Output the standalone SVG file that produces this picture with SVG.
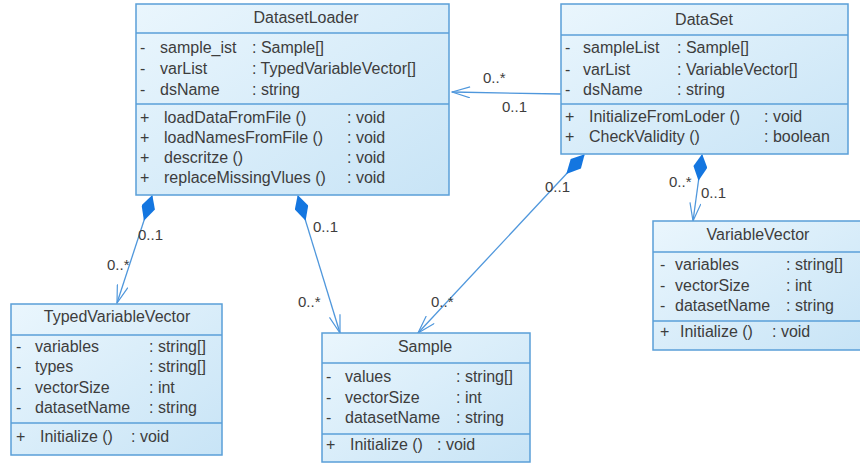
<svg xmlns="http://www.w3.org/2000/svg" width="860" height="463" viewBox="0 0 860 463">
<defs>
<linearGradient id="fill" x1="0" y1="0" x2="1" y2="1">
<stop offset="0" stop-color="#eaf6fd"/>
<stop offset="1" stop-color="#c8e4f6"/>
</linearGradient>
<marker id="open" viewBox="0 0 20 12" refX="19" refY="6" markerWidth="20" markerHeight="12" markerUnits="userSpaceOnUse" orient="auto">
<path d="M1,0.5 L19,6 L1,11.5" fill="none" stroke="#4f97dc" stroke-width="1.2"/>
</marker>
<marker id="diamond" viewBox="0 0 28 14" refX="1" refY="7" markerWidth="28" markerHeight="14" markerUnits="userSpaceOnUse" orient="auto">
<path d="M0,7 L13,0 L27,7 L13,14 Z" fill="#1476e0"/>
</marker>
</defs>
<style>
.box{fill:url(#fill);stroke:#5a9fd8;stroke-width:1.5}
.div{stroke:#5a9fd8;stroke-width:1.3}
text{font-family:"Liberation Sans",Arial,sans-serif;font-size:16px;fill:#3d3d3d}
.t{text-anchor:middle}
.lbl{font-size:15px}
.con{fill:none;stroke:#4f97dc;stroke-width:1.3}
</style>

<g id="connectors">
<line class="con" x1="561" y1="94" x2="452" y2="92" marker-end="url(#open)"/>
<line class="con" x1="152" y1="196" x2="117" y2="303" marker-start="url(#diamond)" marker-end="url(#open)"/>
<line class="con" x1="298" y1="196" x2="340" y2="333" marker-start="url(#diamond)" marker-end="url(#open)"/>
<line class="con" x1="584" y1="155" x2="418" y2="333" marker-start="url(#diamond)" marker-end="url(#open)"/>
<line class="con" x1="702" y1="155" x2="693" y2="221" marker-start="url(#diamond)" marker-end="url(#open)"/>
<text class="lbl" x="483" y="83">0..*</text>
<text class="lbl" x="502" y="112">0..1</text>
<text class="lbl" x="138" y="240">0..1</text>
<text class="lbl" x="107" y="270">0..*</text>
<text class="lbl" x="313" y="232">0..1</text>
<text class="lbl" x="298" y="307">0..*</text>
<text class="lbl" x="545" y="192">0..1</text>
<text class="lbl" x="431" y="307">0..*</text>
<text class="lbl" x="669" y="187">0..*</text>
<text class="lbl" x="701" y="198">0..1</text>
</g>

<g id="DatasetLoader">
<rect class="box" x="136" y="4" width="313" height="191"/>
<line class="div" x1="136" y1="33" x2="449" y2="33"/>
<line class="div" x1="136" y1="104" x2="449" y2="104"/>
<text class="t" x="306" y="23">DatasetLoader</text>
<text x="140" y="53">-</text><text x="160" y="53">sample_ist</text><text x="252" y="53">: Sample[]</text>
<text x="140" y="74">-</text><text x="160" y="74">varList</text><text x="252" y="74">: TypedVariableVector[]</text>
<text x="140" y="95">-</text><text x="160" y="95">dsName</text><text x="252" y="95">: string</text>
<text x="140" y="123">+</text><text x="164" y="123">loadDataFromFile ()</text><text x="347" y="123">: void</text>
<text x="140" y="143">+</text><text x="164" y="143">loadNamesFromFile ()</text><text x="347" y="143">: void</text>
<text x="140" y="163">+</text><text x="164" y="163">descritze ()</text><text x="347" y="163">: void</text>
<text x="140" y="183">+</text><text x="164" y="183">replaceMissingVlues ()</text><text x="347" y="183">: void</text>
</g>

<g id="DataSet">
<rect class="box" x="561" y="4" width="287" height="150"/>
<line class="div" x1="561" y1="35" x2="848" y2="35"/>
<line class="div" x1="561" y1="104" x2="848" y2="104"/>
<text class="t" x="704" y="25">DataSet</text>
<text x="565" y="53">-</text><text x="583" y="53">sampleList</text><text x="677" y="53">: Sample[]</text>
<text x="565" y="75">-</text><text x="583" y="75">varList</text><text x="677" y="75">: VariableVector[]</text>
<text x="565" y="95">-</text><text x="583" y="95">dsName</text><text x="677" y="95">: string</text>
<text x="565" y="122">+</text><text x="589" y="122">InitializeFromLoder ()</text><text x="764" y="122">: void</text>
<text x="565" y="142">+</text><text x="589" y="142">CheckValidity ()</text><text x="764" y="142">: boolean</text>
</g>

<g id="TypedVariableVector">
<rect class="box" x="11" y="304" width="211" height="151"/>
<line class="div" x1="11" y1="335" x2="222" y2="335"/>
<line class="div" x1="11" y1="423" x2="222" y2="423"/>
<text class="t" x="117" y="322">TypedVariableVector</text>
<text x="16" y="352">-</text><text x="35" y="352">variables</text><text x="149" y="352">: string[]</text>
<text x="16" y="372">-</text><text x="35" y="372">types</text><text x="149" y="372">: string[]</text>
<text x="16" y="393">-</text><text x="35" y="393">vectorSize</text><text x="149" y="393">: int</text>
<text x="16" y="413">-</text><text x="35" y="413">datasetName</text><text x="149" y="413">: string</text>
<text x="16" y="442">+</text><text x="40" y="442">Initialize ()</text><text x="131" y="442">: void</text>
</g>

<g id="Sample">
<rect class="box" x="322" y="333" width="208" height="129"/>
<line class="div" x1="322" y1="363" x2="530" y2="363"/>
<line class="div" x1="322" y1="434" x2="530" y2="434"/>
<text class="t" x="425" y="352">Sample</text>
<text x="326" y="382">-</text><text x="345" y="382">values</text><text x="456" y="382">: string[]</text>
<text x="326" y="403">-</text><text x="345" y="403">vectorSize</text><text x="456" y="403">: int</text>
<text x="326" y="423">-</text><text x="345" y="423">datasetName</text><text x="456" y="423">: string</text>
<text x="326" y="450">+</text><text x="350" y="450">Initialize ()</text><text x="437" y="450">: void</text>
</g>

<g id="VariableVector">
<rect class="box" x="653" y="221" width="210" height="129"/>
<line class="div" x1="653" y1="252" x2="863" y2="252"/>
<line class="div" x1="653" y1="321" x2="863" y2="321"/>
<text class="t" x="758" y="240">VariableVector</text>
<text x="660" y="270">-</text><text x="675" y="270">variables</text><text x="786" y="270">: string[]</text>
<text x="660" y="291">-</text><text x="675" y="291">vectorSize</text><text x="786" y="291">: int</text>
<text x="660" y="311">-</text><text x="675" y="311">datasetName</text><text x="786" y="311">: string</text>
<text x="660" y="337">+</text><text x="680" y="337">Initialize ()</text><text x="772" y="337">: void</text>
</g>
</svg>
